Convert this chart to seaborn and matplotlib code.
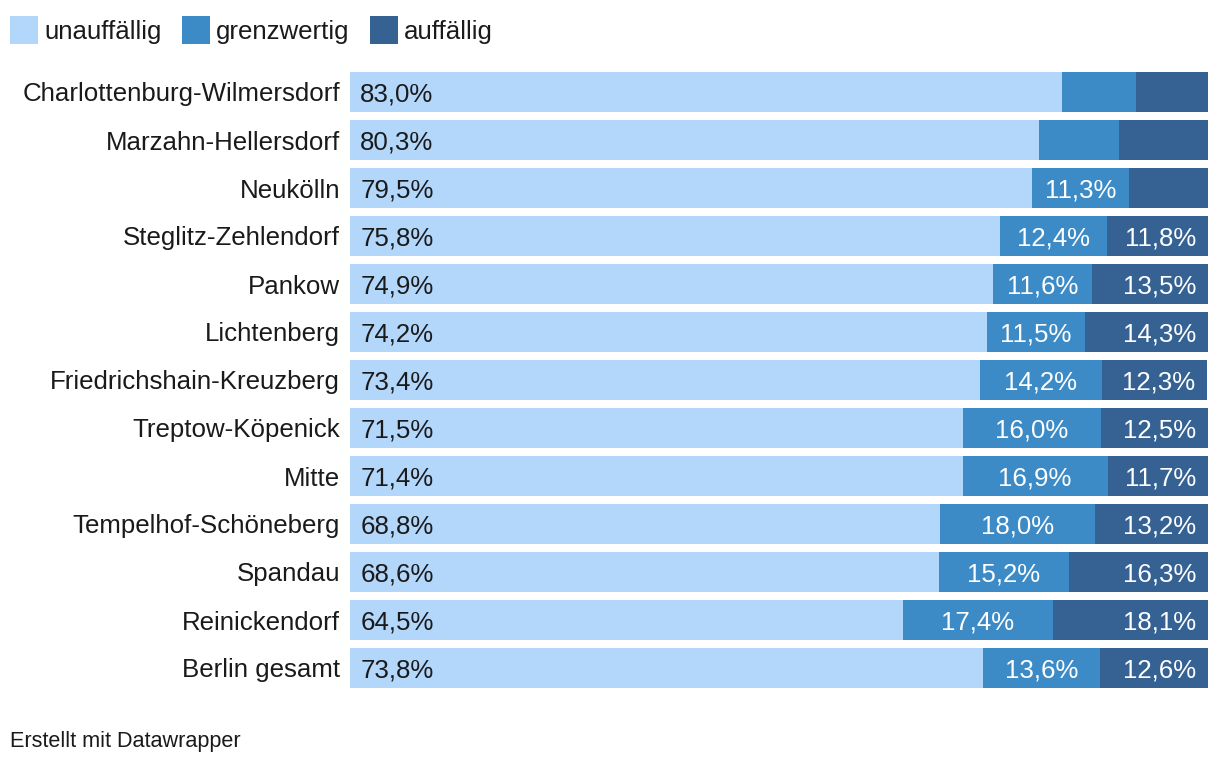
import matplotlib
matplotlib.use("Agg")
import matplotlib.pyplot as plt
from matplotlib.patches import Rectangle
import seaborn as sns
import pandas as pd

# Anteile nach Bezirk (in %)
bezirke = ["Charlottenburg-Wilmersdorf", "Marzahn-Hellersdorf", "Neukölln",
           "Steglitz-Zehlendorf", "Pankow", "Lichtenberg",
           "Friedrichshain-Kreuzberg", "Treptow-Köpenick", "Mitte",
           "Tempelhof-Schöneberg", "Spandau", "Reinickendorf", "Berlin gesamt"]
unauffaellig = [83.0, 80.3, 79.5, 75.8, 74.9, 74.2, 73.4, 71.5, 71.4, 68.8, 68.6, 64.5, 73.8]
grenzwertig = [8.6, 9.3, 11.3, 12.4, 11.6, 11.5, 14.2, 16.0, 16.9, 18.0, 15.2, 17.4, 13.6]
auffaellig = [8.4, 10.4, 9.2, 11.8, 13.5, 14.3, 12.3, 12.5, 11.7, 13.2, 16.3, 18.1, 12.6]

farben = {"unauffällig": "#b3d6fb", "grenzwertig": "#3d8bc6", "auffällig": "#356293"}

df = pd.DataFrame({"bezirk": bezirke, "u": unauffaellig,
                   "g": grenzwertig, "a": auffaellig})
df["ug"] = df["u"] + df["g"]
df["uga"] = df["ug"] + df["a"]

sns.set_style("white")
plt.rcParams["font.family"] = ["Liberation Sans", "DejaVu Sans"]

W, H = 1220, 762
fig = plt.figure(figsize=(W / 100, H / 100), dpi=100)
ax = fig.add_axes([350 / W, 1 - 692 / H, 858 / W, 624 / H])

# gestapelt: breiteste Balken zuerst
for col, key in [("uga", "auffällig"), ("ug", "grenzwertig"), ("u", "unauffällig")]:
    sns.barplot(data=df, y="bezirk", x=col, color=farben[key], width=0.833,
                saturation=1, orient="h", linewidth=0, ax=ax)

def fmt(v):
    return f"{v:.1f}%".replace(".", ",")

fs = 18.6
for i, r in df.iterrows():
    ax.text(1.2, i, fmt(r["u"]), va="center_baseline", ha="left", fontsize=fs,
            color="#1a1a1a")
    if r["g"] >= 11:
        ax.text(r["u"] + r["g"] / 2, i, fmt(r["g"]), va="center_baseline", ha="center",
                fontsize=fs, color="white")
    if r["a"] >= 11:
        ax.text(r["uga"] - 1.4, i, fmt(r["a"]), va="center_baseline",
                ha="right", fontsize=fs, color="white")

ax.set_xlim(0, 100)
ax.set_ylim(12.5, -0.5)
ax.set_xlabel("")
ax.set_ylabel("")
ax.set_xticks([])
ax.tick_params(axis="y", length=0, pad=7.2, labelsize=fs, labelcolor="#1a1a1a")
sns.despine(ax=ax, left=True, bottom=True)

# Legende
leg_x = [10, 182, 370]
for x0, (k, c) in zip(leg_x, farben.items()):
    fig.patches.append(Rectangle((x0 / W, 1 - 44 / H), 28 / W, 28 / H, facecolor=c,
                                 edgecolor="none", transform=fig.transFigure))
    fig.text((x0 + 34) / W, 1 - 30 / H, k, fontsize=fs, color="#1a1a1a",
             va="center_baseline", ha="left")

fig.text(10 / W, 1 - 742 / H, "Erstellt mit Datawrapper", fontsize=15.6,
         color="#1a1a1a", va="center", ha="left")

fig.savefig("out.png", dpi=100)
